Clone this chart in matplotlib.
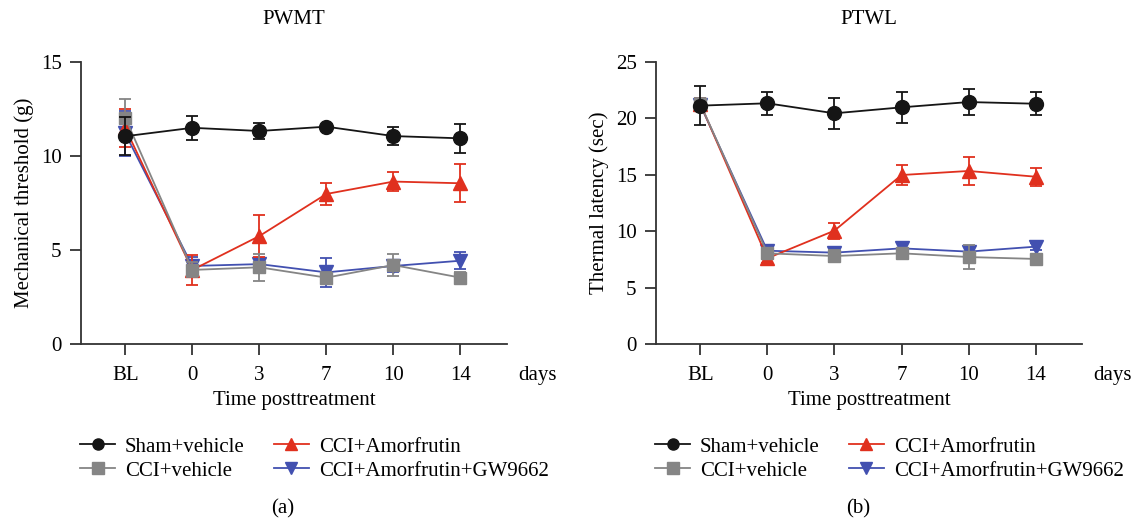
import matplotlib
matplotlib.use("Agg")
import matplotlib.pyplot as plt
from matplotlib.lines import Line2D
import numpy as np

plt.rcParams['font.family'] = ['Liberation Serif', 'DejaVu Serif']

x_labels = ["BL", "0", "3", "7", "10", "14"]
groups = ["Sham+vehicle", "CCI+vehicle", "CCI+Amorfrutin", "CCI+Amorfrutin+GW9662"]

# Panel (a) PWMT
pwmt_sham = [11.05, 11.5, 11.33, 11.56, 11.06, 10.94]
pwmt_sham_err = [1.0, 0.65, 0.45, 0.1, 0.5, 0.78]
pwmt_veh = [12.04, 3.94, 4.08, 3.53, 4.2, 3.53]
pwmt_veh_err = [1.0, 0.4, 0.73, 0.3, 0.57, 0.3]
pwmt_amo = [11.5, 3.94, 5.74, 7.98, 8.64, 8.55]
pwmt_amo_err = [1.0, 0.8, 1.1, 0.6, 0.5, 1.0]
pwmt_gw = [11.2, 4.15, 4.25, 3.81, 4.15, 4.43]
pwmt_gw_err = [1.2, 0.5, 0.3, 0.78, 0.3, 0.45]

# Panel (b) PTWL
ptwl_sham = [21.13, 21.34, 20.45, 20.98, 21.45, 21.3]
ptwl_sham_err = [1.75, 1.03, 1.4, 1.36, 1.13, 1.04]
ptwl_veh = [21.3, 8.04, 7.8, 8.04, 7.71, 7.54]
ptwl_veh_err = [0.5, 0.5, 0.5, 0.4, 1.1, 0.3]
ptwl_amo = [21.3, 7.6, 10.05, 14.98, 15.34, 14.83]
ptwl_amo_err = [0.5, 0.4, 0.7, 0.9, 1.2, 0.8]
ptwl_gw = [21.2, 8.27, 8.1, 8.48, 8.19, 8.63]
ptwl_gw_err = [0.5, 0.5, 0.5, 0.5, 0.5, 0.3]

colors = {"sham": "#151515", "veh": "#858585", "amo": "#E0301E", "gw": "#4250B0"}
markers = {"sham": "o", "veh": "s", "amo": "^", "gw": "v"}
msizes = {"sham": 10, "veh": 9, "amo": 9.5, "gw": 9.5}

W, H = 1136, 522
fig = plt.figure(figsize=(W / 100, H / 100), dpi=100)

FS = 15

def make_panel(rect, data, ylim, yticks, ylabel, title, caption, cap_x, legend_anchor):
    ax = fig.add_axes(rect)
    xs = np.arange(len(x_labels))
    order = ["gw", "amo", "veh", "sham"]
    for i, key in enumerate(order):
        vals, errs, label = data[key]
        ax.errorbar(xs, vals, yerr=errs, color=colors[key], marker=markers[key],
                    markersize=msizes[key], linewidth=1.3, elinewidth=1.3, capsize=4.5,
                    capthick=1.3, label=label, zorder=2 + i)
    ax.set_xlim(-0.66, 5.69)
    ax.set_ylim(*ylim)
    ax.set_yticks(yticks)
    ax.set_xticks(xs)
    ax.set_xticklabels(x_labels)
    for s in ["top", "right"]:
        ax.spines[s].set_visible(False)
    for s in ["left", "bottom"]:
        ax.spines[s].set_linewidth(1.3)
        ax.spines[s].set_color("#333333")
    ax.tick_params(axis="both", direction="out", length=8, width=1.3, color="#333333",
                   labelsize=FS, pad=6)
    ax.tick_params(axis="x", pad=8)
    ax.set_ylabel(ylabel, fontsize=FS, labelpad=5)
    ax.set_xlabel("Time posttreatment", fontsize=FS, labelpad=4)
    ax.set_title(title, fontsize=FS, pad=27)
    ax.annotate("days", xy=(1, 0), xycoords="axes fraction", xytext=(8.3, -26),
                textcoords="offset points", ha="left", va="baseline", fontsize=FS)
    keys = ["sham", "veh", "amo", "gw"]
    hl = [Line2D([], [], color=colors[k], marker=markers[k], markersize=8, linewidth=1.3)
          for k in keys]
    ax.legend(hl, [data[k][2] for k in keys], loc="upper left",
              bbox_to_anchor=legend_anchor, bbox_transform=fig.transFigure,
              ncol=2, frameon=False, fontsize=FS, handlelength=1.68, handletextpad=0.48,
              columnspacing=1.39, labelspacing=0.22, borderpad=0, borderaxespad=0)
    fig.text(cap_x / W, 1 - 509 / H, caption, ha="center", va="center", fontsize=FS)
    return ax

ax_h = (344 - 62) / H
ax_b = 1 - 344 / H

data_a = {
    "sham": (pwmt_sham, pwmt_sham_err, groups[0]),
    "veh": (pwmt_veh, pwmt_veh_err, groups[1]),
    "amo": (pwmt_amo, pwmt_amo_err, groups[2]),
    "gw": (pwmt_gw, pwmt_gw_err, groups[3]),
}
data_b = {
    "sham": (ptwl_sham, ptwl_sham_err, groups[0]),
    "veh": (ptwl_veh, ptwl_veh_err, groups[1]),
    "amo": (ptwl_amo, ptwl_amo_err, groups[2]),
    "gw": (ptwl_gw, ptwl_gw_err, groups[3]),
}

make_panel([81 / W, ax_b, (506.7 - 81) / W, ax_h], data_a, (0, 15), [0, 5, 10, 15],
           "Mechanical threshold (g)", "PWMT", "(a)", 283, (80 / W, 1 - 437 / H))
make_panel([656 / W, ax_b, (1082 - 656) / W, ax_h], data_b, (0, 25), [0, 5, 10, 15, 20, 25],
           "Thermal latency (sec)", "PTWL", "(b)", 858, (655 / W, 1 - 437 / H))

fig.savefig("out.png", dpi=100)
